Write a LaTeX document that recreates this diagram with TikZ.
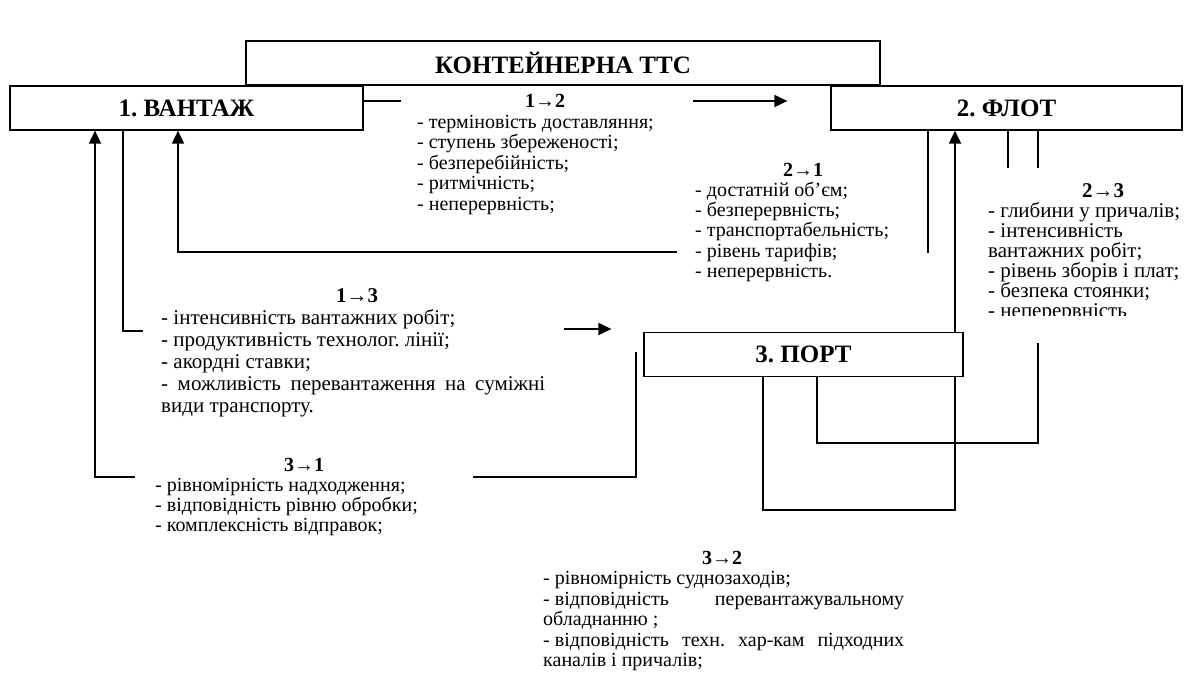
\documentclass[tikz,border=0pt]{standalone}
\usepackage{fontspec}
\setmainfont{Liberation Serif}
\usetikzlibrary{positioning,arrows.meta,backgrounds}
\frenchspacing

\begin{document}
\begin{tikzpicture}[x=1pt,y=1pt,
  TTS/.style={rectangle, draw=black, fill=white, line width=1.2pt, inner sep=0pt, minimum height=44pt, font=\fontsize{25}{28}\selectfont\bfseries},
  txt/.style={anchor=base west, inner sep=0pt, align=justify, font=\fontsize{20}{20.5}\selectfont},
  ln/.style={line width=1.8pt},
  arr/.style={ln, -{Triangle[length=13pt,width=12pt]}},]
\useasboundingbox (0,0) rectangle (1186,-680);
%Nodes
\node[TTS, minimum width=634pt] (T) at (563,-63) {КОНТЕЙНЕРНА ТТС};
\node[TTS, minimum width=353pt] (1) at (186.5,-108) {1. ВАНТАЖ};
\node[TTS, minimum width=351pt] (2) at (1006.5,-108) {2. ФЛОТ};
\node[TTS, minimum width=319pt] (3) at (803.5,-354.5) {3. ПОРТ};

\node[txt, text width=260pt] (a12) at (417,-107.5) {\makebox[256pt]{\bfseries 1→2}\par
- терміновість доставляння;\par - ступень збереженості;\par - безперебійність;\par - ритмічність;\par - неперервність;};
\node[txt, text width=230pt, font=\fontsize{20}{20.3}\selectfont] (a21) at (695,-176) {\makebox[216pt]{\bfseries 2→1}\par
- достатній об’єм;\par - безперервність;\par - транспортабельність;\par - рівень тарифів;\par - неперервність.};
\node[txt, text width=384pt, font=\fontsize{21}{22}\selectfont] (a13) at (161,-302) {\makebox[386pt][l]{\hspace*{175pt}\bfseries 1→3}\par
- інтенсивність вантажних робіт;\par - продуктивність технолог. лінії;\par - акордні ставки;\par - можливість перевантаження на суміжні види транспорту.};
\node[txt, text width=300pt, font=\fontsize{20}{20}\selectfont] (a31) at (155,-471.5) {\makebox[298pt]{\bfseries 3→1}\par
- рівномірність надходження;\par - відповідність рівню обробки;\par - комплексність відправок;};
\begin{scope}
\clip (960,-150) rectangle (1186,-315);
\node[txt, text width=198pt, font=\fontsize{21}{20}\selectfont] (a23) at (988,-197) {\makebox[230pt]{\bfseries 2→3}\par
- глибини у причалів;\par - інтенсивність\par вантажних робіт;\par - рівень зборів і плат;\par - безпека стоянки;\par - неперервність};
\end{scope}
\node[txt, text width=361pt] (a32) at (543,-564) {\makebox[358pt]{\bfseries 3→2}\par
-\hspace{5pt}рівномірність суднозаходів;\par -\hspace{5pt}відповідність перевантажувальному обладнанню ;\par -\hspace{5pt}відповідність техн. \mbox{хар-кам} підходних каналів і причалів;};

%Lines
\begin{pgfonlayer}{background}
\coordinate (s12) at (693,-101);
\coordinate (s21) at (677,-252);
\coordinate (s13) at (143,-331);
\coordinate (e13) at (564,-329);
\coordinate (s31) at (636,-352);
\coordinate (e31) at (473,-477);
\coordinate (f31) at (135,-477);
\coordinate (s23) at (1038,-343);
% 1->2
\draw[ln] ([yshift=7pt]1.east) -- ++(37,0);
\draw[arr, shorten >=43pt] (s12) -- (s12 -| 2.west);
% 2->1
\draw[ln] ([xshift=-78.5pt]2.south) -- ++(0,-122);
\draw[arr] (s21) -| ([xshift=-8.5pt]1.south);
% 1->3
\draw[ln] ([xshift=-63.5pt]1.south) |- (s13);
\draw[arr, shorten >=32pt] (e13) -- (e13 -| 3.west);
% 3->1
\draw[ln] (s31) |- (e31);
\draw[arr] (f31) -| ([xshift=-91.5pt]1.south);
% 2->3
\draw[ln] ([xshift=1.5pt]2.south) -- ++(0,-37);
\draw[ln] ([xshift=31.5pt]2.south) -- ++(0,-37);
\draw[ln] (s23) -- ++(0,-100) -| ([xshift=13.5pt]3.south);
% 3->2
\draw[arr] ([xshift=-40.5pt]3.south) -- ++(0,-133) -| ([xshift=-51.5pt]2.south);
\end{pgfonlayer}
\end{tikzpicture}
\end{document}
